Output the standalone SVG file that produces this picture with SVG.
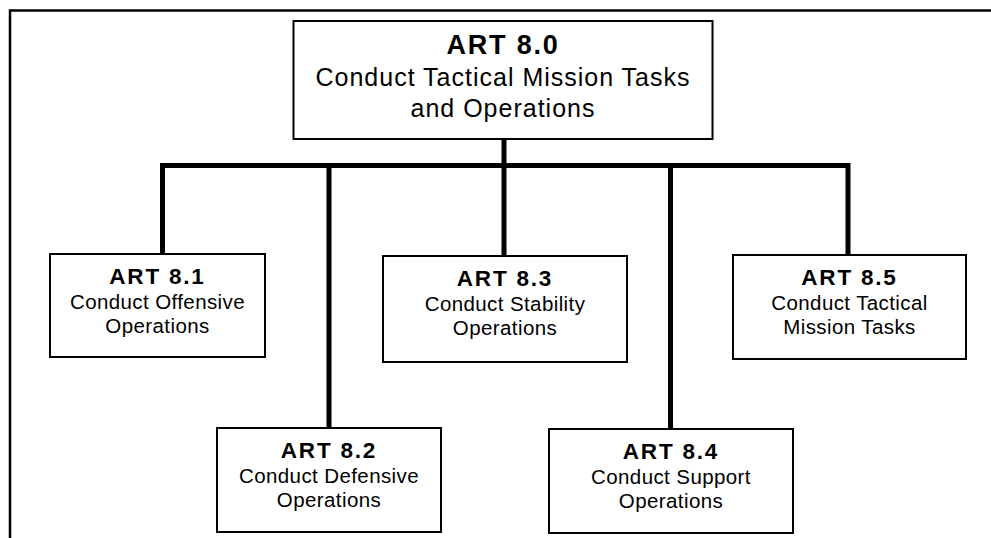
<svg xmlns="http://www.w3.org/2000/svg" width="991" height="538" viewBox="0 0 991 538">
<style>
.box{fill:#fff;stroke:#000;stroke-width:2}
.con{fill:none;stroke:#000;stroke-width:5}
.t{font-family:"Liberation Sans",Arial,Helvetica,sans-serif;text-anchor:middle;fill:#000}
.mh{font-size:27px;font-weight:bold;letter-spacing:1.8px}
.mb{font-size:25px;letter-spacing:1px}
.ch{font-size:22.5px;font-weight:bold;letter-spacing:1.8px}
.cb{font-size:20.5px;letter-spacing:0.4px}
</style>
<rect width="991" height="538" fill="#fff"/>
<path d="M10,538 V10.5 H991" fill="none" stroke="#000" stroke-width="2.5"/>
<g id="connectors">
<path class="con" d="M162.5,254 V165.5 H848 V255"/>
<line class="con" x1="504" y1="139" x2="504" y2="256"/>
<line class="con" x1="329" y1="165.5" x2="329" y2="428"/>
<line class="con" x1="670.5" y1="165.5" x2="670.5" y2="429"/>
</g>
<g id="art80">
<rect class="box" x="293.5" y="21" width="419" height="118"/>
<text class="t mh" x="503" y="54">ART 8.0</text>
<text class="t mb" x="503" y="86">Conduct Tactical Mission Tasks</text>
<text class="t mb" x="503" y="117">and Operations</text>
</g>
<g id="art81">
<rect class="box" x="50" y="254" width="215" height="103"/>
<text class="t ch" x="157.5" y="284">ART 8.1</text>
<text class="t cb" x="157.5" y="308.5">Conduct Offensive</text>
<text class="t cb" x="157.5" y="333">Operations</text>
</g>
<g id="art82">
<rect class="box" x="217" y="428" width="224" height="104"/>
<text class="t ch" x="329" y="458">ART 8.2</text>
<text class="t cb" x="329" y="482.5">Conduct Defensive</text>
<text class="t cb" x="329" y="507">Operations</text>
</g>
<g id="art83">
<rect class="box" x="383" y="256" width="244" height="106"/>
<text class="t ch" x="505" y="286">ART 8.3</text>
<text class="t cb" x="505" y="310.5">Conduct Stability</text>
<text class="t cb" x="505" y="335">Operations</text>
</g>
<g id="art84">
<rect class="box" x="549" y="429" width="244" height="104"/>
<text class="t ch" x="671" y="459">ART 8.4</text>
<text class="t cb" x="671" y="483.5">Conduct Support</text>
<text class="t cb" x="671" y="508">Operations</text>
</g>
<g id="art85">
<rect class="box" x="733" y="255" width="233" height="104"/>
<text class="t ch" x="849.5" y="285">ART 8.5</text>
<text class="t cb" x="849.5" y="309.5">Conduct Tactical</text>
<text class="t cb" x="849.5" y="334">Mission Tasks</text>
</g>
</svg>
